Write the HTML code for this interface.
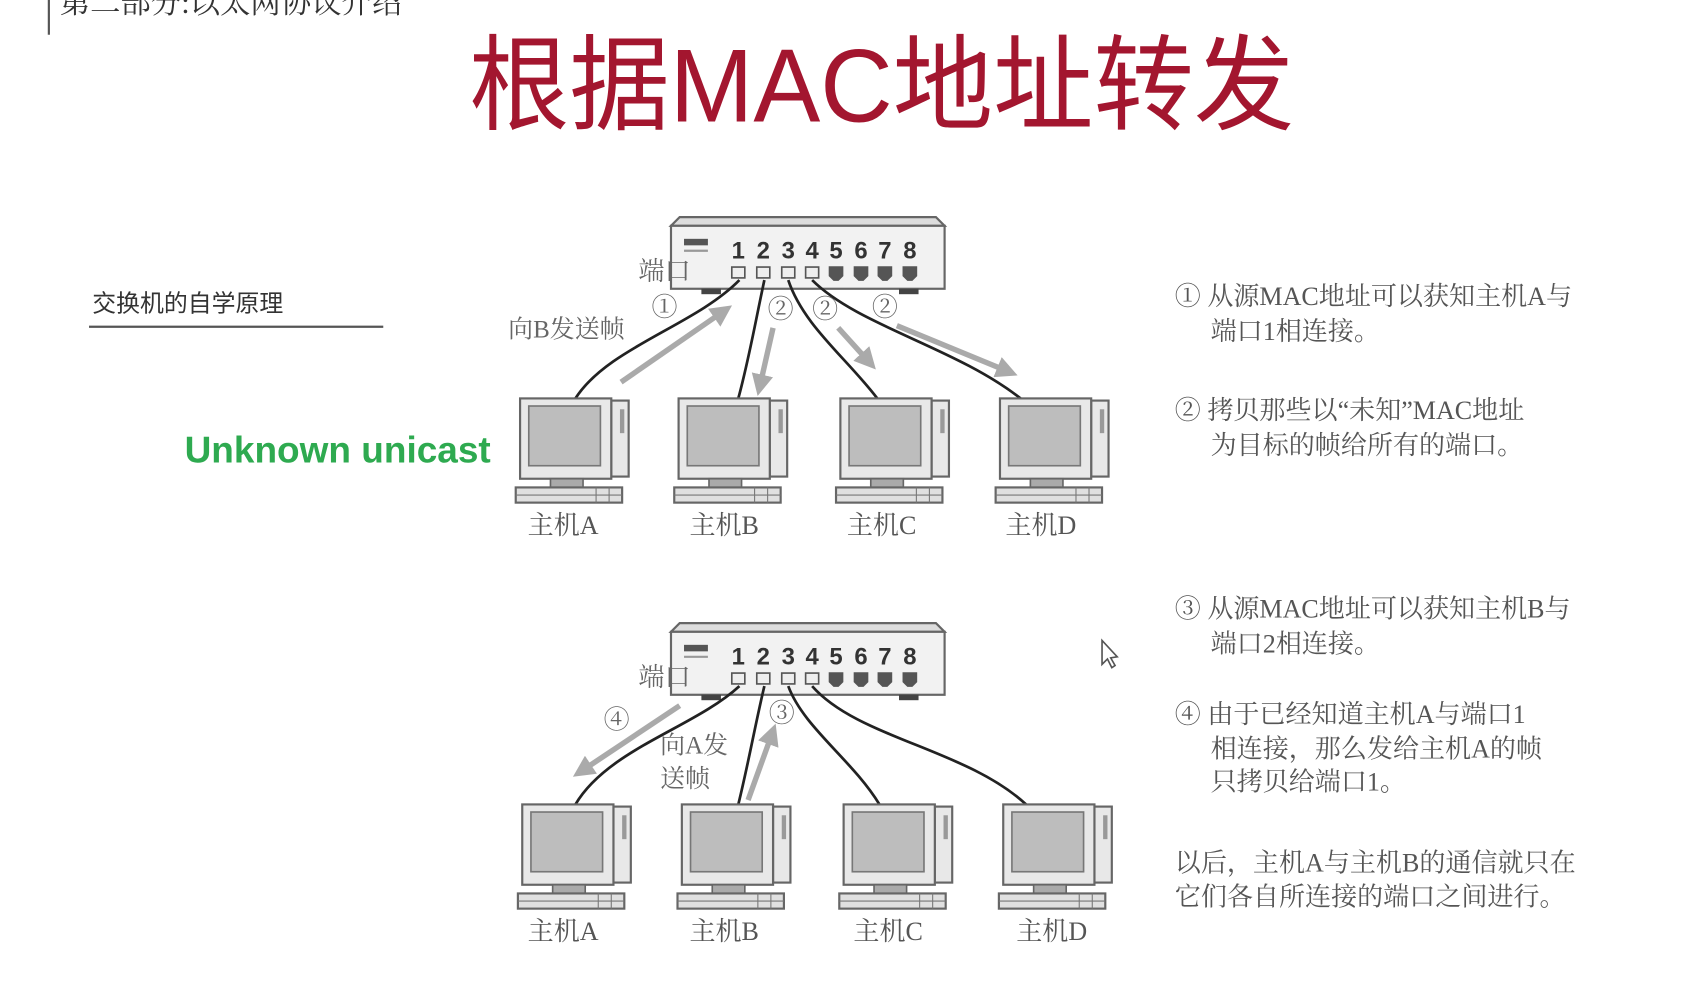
<!DOCTYPE html>
<html><head><meta charset="utf-8">
<style>
html,body{margin:0;padding:0;background:#fff;}
svg{display:block;}
</style></head>
<body>
<svg width="1684" height="1002" viewBox="0 0 1551 923" preserveAspectRatio="none" xmlns="http://www.w3.org/2000/svg" font-family="Liberation Serif,'Noto Serif CJK SC','Noto Sans CJK SC',serif">
<defs>
<symbol id="pc" overflow="visible">
  <rect x="84" y="2" width="16" height="70" fill="#e8e8e8" stroke="#666" stroke-width="2"/>
  <rect x="92" y="10" width="4" height="22" fill="#999"/>
  <rect x="0" y="0" width="84" height="74" fill="#e8e8e8" stroke="#666" stroke-width="2"/>
  <rect x="8" y="7" width="66" height="55" fill="#bdbdbd" stroke="#777" stroke-width="1.5"/>
  <rect x="28" y="74" width="30" height="8" fill="#aaa" stroke="#666" stroke-width="1.5"/>
  <rect x="-4" y="82" width="98" height="14" fill="#e0e0e0" stroke="#666" stroke-width="2"/>
  <line x1="-4" y1="89" x2="94" y2="89" stroke="#777" stroke-width="1"/>
  <line x1="70" y1="82" x2="70" y2="96" stroke="#777" stroke-width="1"/>
  <line x1="82" y1="82" x2="82" y2="96" stroke="#777" stroke-width="1"/>
</symbol>
<symbol id="sw" overflow="visible">
  <path d="M8 0 L244 0 L252 8 L0 8 Z" fill="#ddd" stroke="#666" stroke-width="2"/>
  <rect x="0" y="8" width="252" height="58" fill="#f2f2f2" stroke="#666" stroke-width="2"/>
  <rect x="12" y="20" width="22" height="6" fill="#555"/>
  <line x1="12" y1="31" x2="34" y2="31" stroke="#999" stroke-width="2"/>
  <rect x="28" y="66" width="18" height="5" fill="#444"/>
  <rect x="210" y="66" width="18" height="5" fill="#444"/>
  <g font-family="Liberation Sans, sans-serif" font-size="22" font-weight="bold" fill="#333" text-anchor="middle">
    <text x="62" y="38">1</text><text x="85" y="38">2</text><text x="108" y="38">3</text><text x="130" y="38">4</text>
    <text x="152" y="38">5</text><text x="175" y="38">6</text><text x="197" y="38">7</text><text x="220" y="38">8</text>
  </g>
  <g stroke="#555" stroke-width="1.5">
    <rect x="56" y="46" width="12" height="10" fill="#eee"/><rect x="79" y="46" width="12" height="10" fill="#eee"/>
    <rect x="102" y="46" width="12" height="10" fill="#eee"/><rect x="124" y="46" width="12" height="10" fill="#eee"/>
    <path d="M146 46h12v8l-4 4h-4l-4-4z" fill="#555"/><path d="M169 46h12v8l-4 4h-4l-4-4z" fill="#555"/>
    <path d="M191 46h12v8l-4 4h-4l-4-4z" fill="#555"/><path d="M214 46h12v8l-4 4h-4l-4-4z" fill="#555"/>
  </g>
</symbol>
<marker id="ah" markerWidth="4" markerHeight="4" refX="2" refY="2" orient="auto" markerUnits="strokeWidth">
  <path d="M0 0 L4 2 L0 4 Z" fill="#aaa"/>
</marker>
</defs>

<line x1="45" y1="0" x2="45" y2="32" stroke="#555" stroke-width="2"/>
<text x="55" y="12" font-size="28" fill="#333">第二部分:以太网协议介绍</text>

<text x="432" y="112" font-size="96" fill="#a3162f" font-family="Liberation Sans,'Noto Sans CJK SC',sans-serif" textLength="760" lengthAdjust="spacingAndGlyphs">根据MAC地址转发</text>

<text x="85" y="287" font-size="22" fill="#333" font-family="'Noto Sans CJK SC',sans-serif">交换机的自学原理</text>
<line x1="82" y1="301" x2="353" y2="301" stroke="#555" stroke-width="2"/>
<text x="170" y="426" font-size="34" font-weight="bold" fill="#2eaa50" font-family="Liberation Sans,sans-serif" textLength="282" lengthAdjust="spacingAndGlyphs">Unknown unicast</text>

<!-- top diagram -->
<use href="#sw" x="618" y="200"/>
<text x="588" y="258" font-size="24" fill="#666">端口</text>
<g fill="none" stroke="#222" stroke-width="2.5">
  <path d="M681 258 C640 300 560 320 530 367"/>
  <path d="M704 258 C695 300 690 330 680 367"/>
  <path d="M726 258 C740 300 780 330 808 367"/>
  <path d="M748 258 C790 300 880 320 940 367"/>
</g>
<g stroke="#aaa" stroke-width="5" marker-end="url(#ah)">
  <line x1="572" y1="352" x2="666" y2="287"/>
  <line x1="712" y1="302" x2="700" y2="355"/>
  <line x1="772" y1="302" x2="800" y2="333"/>
  <line x1="826" y1="300" x2="928" y2="342"/>
</g>
<g font-size="24" fill="#666">
  <text x="600" y="291">①</text><text x="707" y="293">②</text><text x="748" y="293">②</text><text x="803" y="291">②</text>
  <text x="468" y="311" font-size="23">向B发送帧</text>
</g>
<use href="#pc" x="479" y="367"/><use href="#pc" x="625" y="367"/><use href="#pc" x="774" y="367"/><use href="#pc" x="921" y="367"/>
<g font-size="24" fill="#555">
  <text x="486" y="492">主机A</text><text x="635" y="492">主机B</text><text x="780" y="492">主机C</text><text x="926" y="492">主机D</text>
</g>

<!-- bottom diagram -->
<use href="#sw" x="618" y="574"/>
<text x="588" y="632" font-size="24" fill="#666">端口</text>
<g fill="none" stroke="#222" stroke-width="2.5">
  <path d="M681 632 C640 670 560 690 530 741"/>
  <path d="M704 632 C695 670 690 700 680 741"/>
  <path d="M726 632 C740 670 785 700 810 741"/>
  <path d="M748 632 C790 680 890 690 945 741"/>
</g>
<g stroke="#aaa" stroke-width="5" marker-end="url(#ah)">
  <line x1="626" y1="650" x2="536" y2="710"/>
  <line x1="689" y1="737" x2="711" y2="676"/>
</g>
<g font-size="24" fill="#666">
  <text x="556" y="671">④</text><text x="708" y="665">③</text>
  <text x="608" y="694" font-size="23">向A发</text><text x="608" y="725" font-size="23">送帧</text>
</g>
<use href="#pc" x="481" y="741"/><use href="#pc" x="628" y="741"/><use href="#pc" x="777" y="741"/><use href="#pc" x="924" y="741"/>
<g font-size="24" fill="#555">
  <text x="486" y="866">主机A</text><text x="635" y="866">主机B</text><text x="786" y="866">主机C</text><text x="936" y="866">主机D</text>
</g>

<path d="M1015 590 L1015 612 L1020 607 L1024 615 L1027 613 L1023 606 L1029 605 Z" fill="#fff" stroke="#555" stroke-width="1.5"/>

<!-- right text -->
<g font-size="24" fill="#555">
  <text x="1082" y="281">① 从源MAC地址可以获知主机A与</text>
  <text x="1115" y="313">端口1相连接。</text>
  <text x="1082" y="386">② 拷贝那些以“未知”MAC地址</text>
  <text x="1115" y="418">为目标的帧给所有的端口。</text>
  <text x="1082" y="569">③ 从源MAC地址可以获知主机B与</text>
  <text x="1115" y="601">端口2相连接。</text>
  <text x="1082" y="666">④ 由于已经知道主机A与端口1</text>
  <text x="1115" y="698">相连接，那么发给主机A的帧</text>
  <text x="1115" y="728">只拷贝给端口1。</text>
  <text x="1082" y="803">以后，主机A与主机B的通信就只在</text>
  <text x="1082" y="834">它们各自所连接的端口之间进行。</text>
</g>
</svg>
</body></html>
